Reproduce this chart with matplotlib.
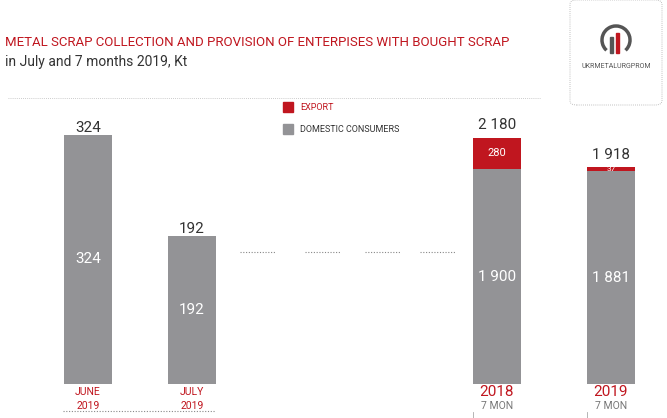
import matplotlib
matplotlib.use("Agg")
import matplotlib.pyplot as plt
from matplotlib.patches import FancyBboxPatch, Rectangle

months = ["JUNE\n2019", "JULY\n2019"]
month_vals = [324, 192]
periods = ["2018", "2019"]
domestic = [1900, 1881]
export = [280, 37]
totals = [2180, 1918]

RED = "#c0161f"
GRAY = "#939396"
TXT = "#333333"
FONT = "Roboto"
plt.rcParams['font.family'] = [FONT, 'DejaVu Sans']

fig = plt.figure(figsize=(6.67, 4.18), dpi=100)
W, H = 667, 418
bot = 384
top = 84
rect = [0, (H - bot) / H, 1, (bot - top) / H]
axL = fig.add_axes(rect)
axR = fig.add_axes(rect)
for a in (axL, axR):
    a.set_xlim(0, W)
    a.axis("off")
    a.patch.set_alpha(0)
axL.set_ylim(0, (bot - top) / 0.77)
axR.set_ylim(0, (bot - top) / 0.113)

xl = [88, 192]
xr = [497, 611]
bw = 48
axL.bar(xl, month_vals, width=bw, color=GRAY)
for x, v, lab in zip(xl, month_vals, months):
    axL.text(x, v / 2, f"{v}", ha="center", va="center", color="white", fontsize=11)
    axL.text(x, v, f"{v}", ha="center", va="bottom", color=TXT, fontsize=11)
axR.bar(xr, domestic, width=bw, color=GRAY)
axR.bar(xr, export, bottom=domestic, width=bw, color=RED)
for x, d, e, t in zip(xr, domestic, export, totals):
    axR.text(x, d / 2, f"{d:,}".replace(",", " "), ha="center", va="center", color="white", fontsize=11)
    axR.text(x, d + e / 2, f"{e}", ha="center", va="center", color="white", fontsize=8 if e > 100 else 6)
    axR.annotate(f"{t:,}".replace(",", " "), (x, t), xytext=(0, 4), textcoords="offset points",
                 ha="center", va="bottom", color=TXT, fontsize=11)

def fy(p):
    return 1 - p / H
def fx(p):
    return p / W

for x, lab in zip(xl, months):
    fig.text(fx(x), fy(387), lab, ha="center", va="top", color=RED, fontsize=7.5, linespacing=1.5)
for x, lab in zip(xr, periods):
    fig.text(fx(x), fy(385), lab, ha="center", va="top", color=RED, fontsize=11)
    fig.text(fx(x), fy(401), "7 MON", ha="center", va="top", color="#777777", fontsize=7.5)
    fig.add_artist(plt.Line2D([fx(x - 24), fx(x - 24)], [0, fy(412)], color="#aaaaaa", lw=0.6))

fig.add_artist(plt.Line2D([fx(63), fx(215)], [fy(411), fy(411)], color="#888888", lw=0.8, ls=(0, (1, 1.5))))
for a, b in [(240, 275), (305, 340), (365, 400), (420, 455)]:
    fig.add_artist(plt.Line2D([fx(a), fx(b)], [fy(252), fy(252)], color="#888888", lw=0.8, ls=(0, (1, 1.5))))

fig.text(fx(5), fy(43), "METAL SCRAP COLLECTION AND PROVISION OF ENTERPISES WITH BOUGHT SCRAP",
         color=RED, fontsize=9.5, va="center")
fig.text(fx(5), fy(62), "in July and 7 months 2019, Kt", color=TXT, fontsize=10, va="center")
fig.add_artist(plt.Line2D([fx(8), fx(540)], [fy(98), fy(98)], color="#bbbbbb", lw=0.6, ls=(0, (1, 1.5))))

# legend
fig.add_artist(Rectangle((fx(283), fy(112)), fx(10), 10 / H, color=RED))
fig.text(fx(300), fy(107), "EXPORT", color=RED, fontsize=6.5, va="center")
fig.add_artist(Rectangle((fx(283), fy(134)), fx(10), 10 / H, color=GRAY))
fig.text(fx(300), fy(129), "DOMESTIC CONSUMERS", color=TXT, fontsize=6.5, va="center")

# logo box
fig.add_artist(FancyBboxPatch((fx(570), fy(105)), fx(92), 105 / H, boxstyle="round,pad=0,rounding_size=0.01",
                              fill=False, ec="#aaaaaa", lw=0.6, ls=(0, (1, 1.5))))
fig.add_artist(matplotlib.patches.Arc((fx(616), fy(40)), fx(28), 28 / H, theta1=-60, theta2=240, color="#555555", lw=2.5))
fig.add_artist(Rectangle((fx(610), fy(53)), fx(3), 16 / H, color="#555555"))
fig.add_artist(Rectangle((fx(616), fy(53)), fx(3), 20 / H, color=RED))
fig.text(fx(616), fy(66), "UKRMETALURGPROM", ha="center", va="center", color="#555555", fontsize=5)

fig.savefig("out.png", dpi=100)
